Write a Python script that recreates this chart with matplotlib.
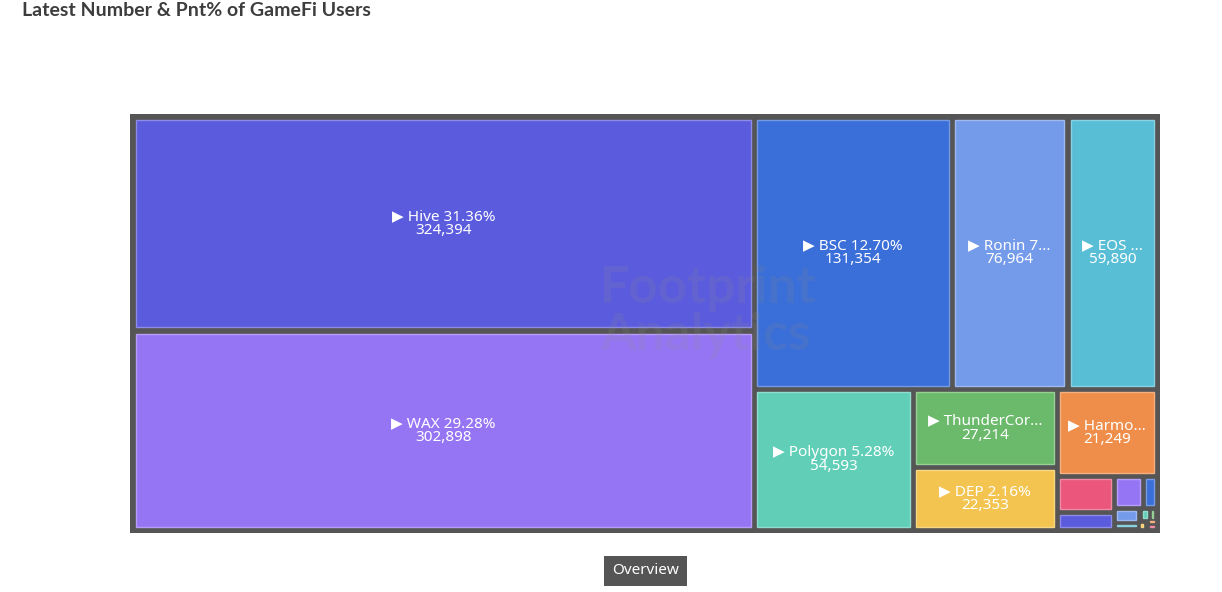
import matplotlib
matplotlib.use("Agg")
import matplotlib.pyplot as plt
from matplotlib.patches import Rectangle
from matplotlib.colors import to_rgb

# chain user counts (latest), sorted as in the chart
names = ["Hive", "WAX", "BSC", "Ronin", "EOS", "Polygon", "ThunderCore", "DEP",
         "Harmony", "Solana", "Flow", "Avalanche", "Fantom", "Klaytn", "Ethereum",
         "Arbitrum", "Optimism", "Near", "Tezos", "Cronos"]
users = [324394, 302898, 131354, 76964, 59890, 54593, 27214, 22353,
         21249, 5020, 2580, 2300, 1110, 945, 470, 365, 230, 160, 125, 105]
# label overflow: characters kept before "..." (0 = fits)
cut = [0, 0, 0, 9, 6, 0, 12, 0, 7, 0, 0, 0, 0, 0, 0, 0, 0, 0, 0, 0]

palette = ["#5b5bde", "#9675f5", "#3a6ed8", "#749aea", "#58bed6",
           "#61cfb8", "#6bba6b", "#f3c450", "#ef8e4a", "#ea567c"]

title = "Latest Number & Pnt% of GameFi Users"

PHI = 0.5 * (1 + 5 ** 0.5)


def worst(row, fixed):
    s = sum(row)
    if s == 0:
        return float("inf")
    f = fixed * fixed * PHI
    return max(f * max(row) / (s * s), (s * s) / (f * min(row)))


def position(row, idx, fixed, rect, hg, flush, out):
    # rect = [x, y, w, h]
    horiz = fixed == rect[2]
    area = sum(row)
    other = area / fixed if fixed else 0
    olen = rect[3] if horiz else rect[2]
    if flush or other > olen:
        other = olen
    last = rect[0] if horiz else rect[1]
    end = (rect[0] + rect[2]) if horiz else (rect[1] + rect[3])
    for k, (a, i) in enumerate(zip(row, idx)):
        step = a / other if other else 0
        remain = end - last
        mod = remain if (k == len(row) - 1 or remain < step) else step
        w1 = max(other - 2 * hg, 0)
        w0 = max(mod - 2 * hg, 0)
        if horiz:
            out[i] = (last + min(hg, w0 / 2), rect[1] + min(hg, w1 / 2), w0, w1)
        else:
            out[i] = (rect[0] + min(hg, w1 / 2), last + min(hg, w0 / 2), w1, w0)
        last += mod
    if horiz:
        rect[1] += other
        rect[3] -= other
    else:
        rect[0] += other
        rect[2] -= other


def squarify(values, x, y, w, h, hg):
    tot = sum(values)
    areas = [v / tot * w * h for v in values]
    rect = [x, y, w, h]
    fixed = min(w, h)
    out = [None] * len(values)
    row, idx = [], []
    score = float("inf")
    i = 0
    while i < len(areas):
        row.append(areas[i])
        idx.append(i)
        s2 = worst(row, fixed)
        if s2 <= score:
            i += 1
            score = s2
        else:
            row.pop()
            idx.pop()
            position(row, idx, fixed, rect, hg, False, out)
            fixed = min(rect[2], rect[3])
            row, idx = [], []
            score = float("inf")
    if row:
        position(row, idx, fixed, rect, hg, True, out)
    return out


def lighten(c, amt):
    r, g, b = to_rgb(c)
    return (r + (1 - r) * amt, g + (1 - g) * amt, b + (1 - b) * amt)


fig = plt.figure(figsize=(12.22, 5.92), dpi=100)
fig.patch.set_facecolor("white")
ax = fig.add_axes([0, 0, 1, 1])
ax.set_xlim(0, 1222)
ax.set_ylim(592, 0)
ax.axis("off")

# chart box in pixel space
bx0, by0, bx1, by1 = 130, 114, 1160, 533
border = 2.5
hg = 2.5
ax.add_patch(Rectangle((bx0, by0), bx1 - bx0, by1 - by0, facecolor="#555555",
                       edgecolor="none", zorder=1))

cells = squarify(users, bx0 + border, by0 + border,
                 bx1 - bx0 - 2 * border, by1 - by0 - 2 * border, hg)

total = sum(users)
lab_font = ["Noto Sans", "DejaVu Sans"]
lab_size = 11

for i, (x, y, w, h) in enumerate(cells):
    c = palette[i % len(palette)]
    ax.add_patch(Rectangle((x + 0.6, y + 0.6), w - 1.2, h - 1.2, facecolor=c,
                           edgecolor=lighten(c, 0.3), lw=1.0, zorder=2))
    if w < 60 or h < 35:
        continue
    pct = users[i] / total * 100
    line1 = f"\u25B6 {names[i]} {pct:.2f}%"
    if cut[i]:
        line1 = line1[:cut[i]] + "..."
    line2 = f"{users[i]:,}"
    ax.text(x + w / 2, y + h / 2, line1 + "\n" + line2, ha="center", va="center",
            multialignment="center", fontsize=lab_size, color="white",
            family=lab_font, linespacing=0.9, zorder=4)

# faint watermark
ax.text(600, 312, "Footprint\nAnalytics", fontsize=37, fontweight="bold",
        color="#8a8a8a", alpha=0.16, ha="left", va="center", linespacing=1.0,
        family=["Lato", "DejaVu Sans"], zorder=3)

# title
ax.text(22, 11, title, fontsize=14, fontweight="bold", color="#3d3d3d",
        ha="left", va="center", family=["Lato", "DejaVu Sans"])

# breadcrumb
ax.text(645.5, 571, "Overview", fontsize=11, color="white", ha="center",
        va="center", family=lab_font,
        bbox=dict(boxstyle="square,pad=0.5", facecolor="#555555",
                  edgecolor="none"))

fig.savefig("out.png", dpi=100, facecolor="white")
